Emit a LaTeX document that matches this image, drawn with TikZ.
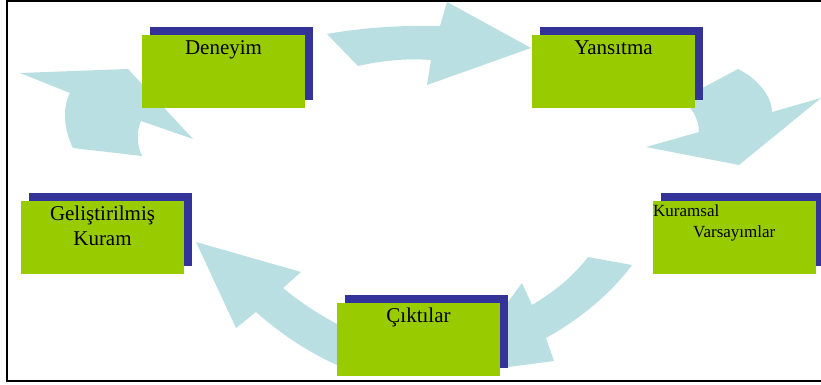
\documentclass[tikz,border=0pt]{standalone}
\usepackage{fontspec}
\setmainfont{Liberation Serif}
\usetikzlibrary{shadows}
\definecolor{boxgreen}{HTML}{99CC00}
\definecolor{boxblue}{HTML}{333399}
\definecolor{arrowblue}{HTML}{B9DFE3}
\tikzset{
  greenbox/.style={draw=none, fill=boxgreen, minimum width=163pt, minimum height=73pt, inner sep=0pt,
    general shadow={fill=boxblue, shadow xshift=8pt, shadow yshift=8pt}},
  bigtxt/.style={anchor=base, inner sep=0pt, font=\fontsize{21}{25}\selectfont, align=center},
  smalltxt/.style={anchor=base west, inner sep=0pt, font=\fontsize{17}{20}\selectfont},
  blockarrow/.style={fill=arrowblue, draw=none}
}
\begin{document}
\begin{tikzpicture}[x=1pt,y=-1pt]
\useasboundingbox (0,0) rectangle (821,385);
\clip (0,0) rectangle (821,385);
\fill[white] (0,0) rectangle (821,385);
% block arrows
\fill[blockarrow] (327,34) .. controls (360,28) and (400,25) .. (440,26) -- (447,2) -- (531,48) -- (427,85) -- (431,60) .. controls (405,58) and (380,61) .. (358,66) -- cycle;
\fill[blockarrow] (738,69) .. controls (755,77) and (772,95) .. (772,112) -- (821,98) -- (739,165) -- (646,147) -- (699,132) .. controls (699,118) and (690,104) .. (680,100) -- cycle;
\fill[blockarrow] (588,257) -- (632,265) .. controls (612,292) and (582,318) .. (546,338) -- (554,361) -- (455,374) -- (522,283) -- (532,305) .. controls (552,293) and (572,278) .. (588,257) -- cycle;
\fill[blockarrow] (196,242) -- (301,272) -- (283,288) .. controls (300,302) and (318,314) .. (337,324) -- (350,330) -- (350,372) -- (337,365) .. controls (310,353) and (282,335) .. (256,312) -- (236,328) -- cycle;
\fill[blockarrow] (20,73) -- (128,69) -- (193,139) -- (141,121) .. controls (136,132) and (137,146) .. (142,156) -- (73,148) .. controls (64,130) and (62,108) .. (70,93) -- cycle;
% boxes
\node[greenbox] (deneyim) at (223.5,71.5) {};
\node[greenbox] (yansitma) at (613.5,71.5) {};
\node[greenbox] (kuramsal) at (734.5,237.5) {};
\node[greenbox] (ciktilar) at (418.5,339.5) {};
\node[greenbox] (gelistirilmis) at (102.5,237.5) {};
% texts
\node[bigtxt] (tdeneyim) at (223.5,55) {Deneyim};
\node[bigtxt] (tyansitma) at (613.5,55) {Yansıtma};
\node[bigtxt] (tciktilar) at (418.5,322) {Çıktılar};
\node[bigtxt] (tgel1) at (102.5,220) {Geliştirilmiş};
\node[bigtxt] (tgel2) at (102.5,245) {Kuram};
\node[smalltxt] (tkur1) at (653,216) {Kuramsal};
\node[smalltxt] (tkur2) at (693,237) {Varsayımlar};
% frame
\draw[line width=2pt] (6.5,1.3) rectangle (840,381);
\end{tikzpicture}
\end{document}
